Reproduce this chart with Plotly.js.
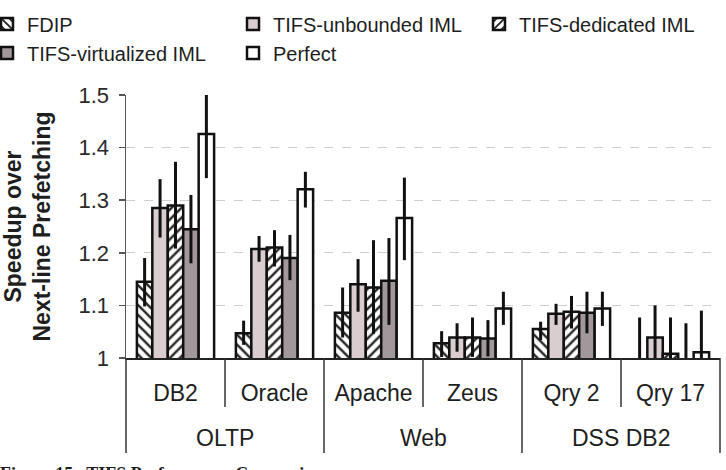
<!DOCTYPE html>
<html>
<head>
<meta charset="utf-8">
<script src="https://cdn.plot.ly/plotly-3.0.1.min.js"></script>
<style>
  html, body { margin: 0; padding: 0; background: #ffffff; }
  #chart { width: 726px; height: 470px; }
</style>
</head>
<body>
<div id="chart"></div>
<script>
// Workloads (inner axis level) and the suites they belong to (outer level)
const workloads = ["DB2", "Oracle", "Apache", "Zeus", "Qry 2", "Qry 17"];
const suites = ["OLTP", "Web", "DSS DB2"];

// Speedup over next-line prefetching, one value per workload
const fdip        = [1.145, 1.047, 1.086, 1.028, 1.055, 0.995];
const fdipErrUp   = [0.045, 0.024, 0.048, 0.023, 0.014, 0.082];
const fdipErrDn   = [0.047, 0.022, 0.047, 0.026, 0.021, 0.050];

const unbounded      = [1.285, 1.207, 1.140, 1.039, 1.084, 1.039];
const unboundedErrUp = [0.055, 0.025, 0.048, 0.027, 0.019, 0.061];
const unboundedErrDn = [0.056, 0.024, 0.052, 0.027, 0.021, 0.061];

const dedicated      = [1.290, 1.210, 1.134, 1.039, 1.088, 1.008];
const dedicatedErrUp = [0.083, 0.033, 0.090, 0.038, 0.030, 0.069];
const dedicatedErrDn = [0.082, 0.036, 0.088, 0.037, 0.032, 0.069];

const virtualized      = [1.245, 1.190, 1.147, 1.037, 1.086, 0.995];
const virtualizedErrUp = [0.065, 0.044, 0.081, 0.035, 0.040, 0.071];
const virtualizedErrDn = [0.065, 0.042, 0.084, 0.034, 0.039, 0.071];

const perfect      = [1.426, 1.321, 1.266, 1.094, 1.094, 1.011];
const perfectErrUp = [0.074, 0.033, 0.077, 0.032, 0.032, 0.079];
const perfectErrDn = [0.084, 0.035, 0.080, 0.031, 0.033, 0.079];

const yTicks = [1, 1.1, 1.2, 1.3, 1.4, 1.5];
const yTitle = "Speedup over<br>Next-line Prefetching";

const FONT = "Liberation Sans, Arial, sans-serif";
const INK = "#1e1e1e";

// Plot area in page pixels (used to place legend columns and the y title)
const M = { l: 126, r: 6, t: 95, b: 112 };
const W = 726, H = 470;
const plotW = W - M.l - M.r, plotH = H - M.t - M.b;
const paperX = px => (px - M.l) / plotW;
const paperY = py => (H - M.b - py) / plotH;

function barTrace(name, y, up, dn, fill, pattern, legendId) {
  const marker = {
    color: fill,
    line: { color: "#111111", width: 2.5 }
  };
  if (pattern) {
    marker.pattern = { shape: pattern, fgcolor: "#222222", bgcolor: "#ffffff",
                       size: 7, solidity: 0.33, fillmode: "replace" };
  }
  return {
    type: "bar",
    name: name,
    x: workloads,
    y: y,
    marker: marker,
    legend: legendId,
    error_y: { type: "data", symmetric: false, array: up, arrayminus: dn,
               color: "#111111", thickness: 3, width: 0 },
    hoverinfo: "skip"
  };
}

// Legend columns: (FDIP, virtualized) | (unbounded, Perfect) | (dedicated)
const traces = [
  barTrace("FDIP", fdip, fdipErrUp, fdipErrDn, "#ffffff", "\\", "legend"),
  barTrace("TIFS-unbounded IML", unbounded, unboundedErrUp, unboundedErrDn, "#d9cdd0", null, "legend2"),
  barTrace("TIFS-dedicated IML", dedicated, dedicatedErrUp, dedicatedErrDn, "#ffffff", "/", "legend3"),
  barTrace("TIFS-virtualized IML", virtualized, virtualizedErrUp, virtualizedErrDn, "#a2979a", null, "legend"),
  barTrace("Perfect", perfect, perfectErrUp, perfectErrDn, "#ffffff", null, "legend2")
];

// Category separators under the x axis: short ones between workloads,
// long ones between suites.
const nCat = workloads.length;
const shapes = [];
for (let k = 0; k <= nCat; k++) {
  const xp = k / nCat;
  const longLine = (k % 2 === 0);
  shapes.push({
    type: "line", xref: "paper", yref: "paper",
    x0: xp, x1: xp, y0: 0, y1: longLine ? -0.361 : -0.186,
    line: { color: "#333333", width: 1.5 }
  });
}

// Suite labels centred under each pair of workloads
const annotations = suites.map((s, i) => ({
  text: s, xref: "x", yref: "paper",
  x: 2 * i + 0.5, y: -0.306, yanchor: "middle",
  showarrow: false,
  font: { family: FONT, size: 23, color: INK }
}));

// Rotated y-axis title
annotations.push({
  text: "<b>" + yTitle + "</b>",
  xref: "paper", yref: "paper",
  x: paperX(27), y: 0.5, xanchor: "center", yanchor: "middle",
  textangle: -90, showarrow: false,
  font: { family: FONT, size: 23, color: INK }
});

// Figure caption, running off the bottom edge
annotations.push({
  text: "<b>Figure 15.  TIFS Performance Comparison</b>",
  xref: "paper", yref: "paper",
  x: paperX(-2), xanchor: "left", y: -0.395, yanchor: "top",
  showarrow: false,
  font: { family: "Liberation Serif, Times New Roman, serif", size: 18, color: INK }
});

function legendColumn(px) {
  return {
    orientation: "v",
    xref: "paper", yref: "paper",
    x: paperX(px), xanchor: "left", y: paperY(4.5), yanchor: "top",
    font: { family: FONT, size: 20, color: INK },
    bgcolor: "rgba(0,0,0,0)", borderwidth: 0,
    traceorder: "normal"
  };
}

const layout = {
  width: W,
  height: H,
  paper_bgcolor: "#ffffff",
  plot_bgcolor: "#ffffff",
  margin: { l: M.l, r: M.r, t: M.t, b: M.b, autoexpand: false },
  barmode: "group",
  bargap: 0.22,
  bargroupgap: 0,
  showlegend: true,
  legend: legendColumn(-13),
  legend2: legendColumn(233),
  legend3: legendColumn(479),
  xaxis: {
    type: "category",
    range: [-0.5, nCat - 0.5],
    showline: true, linecolor: "#222222", linewidth: 2,
    ticks: "", ticklabelstandoff: 13,
    showgrid: false, zeroline: false,
    tickfont: { family: FONT, size: 23, color: INK },
    automargin: false,
    fixedrange: true
  },
  yaxis: {
    range: [1, 1.5],
    tickvals: yTicks,
    ticktext: yTicks.map(v => String(v)),
    showline: true, linecolor: "#555555", linewidth: 1.5,
    ticks: "outside", ticklen: 6, tickcolor: "#555555", tickwidth: 1.5,
    ticklabelstandoff: 5,
    showgrid: true, gridcolor: "#cfcfcf", griddash: "dash", gridwidth: 1,
    zeroline: false,
    tickfont: { family: FONT, size: 22, color: "#2a2a2a" },
    automargin: false,
    fixedrange: true
  },
  shapes: shapes,
  annotations: annotations
};

Plotly.newPlot("chart", traces, layout, { displayModeBar: false, staticPlot: true });
</script>
</body>
</html>
